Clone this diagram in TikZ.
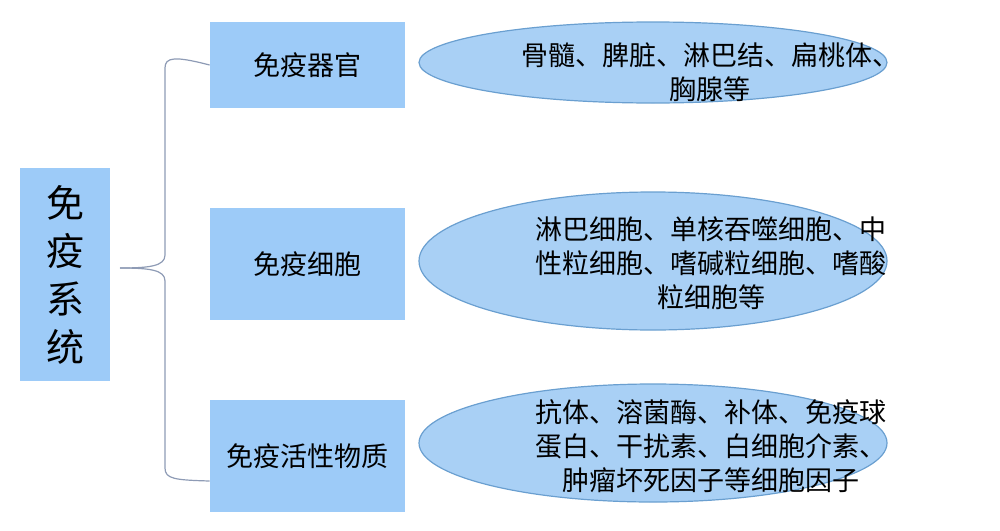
\documentclass[tikz,border=0pt]{standalone}
\usepackage{fontspec}
\setmainfont{Noto Sans CJK SC}
\usetikzlibrary{shapes.geometric}
\definecolor{boxc}{HTML}{9DCBF8}
\definecolor{ellc}{HTML}{A9D0F5}
\definecolor{elld}{HTML}{6A9FD0}
\definecolor{brc}{HTML}{8E9BB5}
\tikzset{
 box/.style={fill=boxc,draw=none,inner sep=0pt,align=center,font=\fontsize{13.5}{16}\selectfont},
 ell/.style={ellipse,fill=ellc,draw=elld,line width=0.6pt,inner sep=0pt},
 etext/.style={align=center,inner sep=0pt,font=\fontsize{13.5}{17}\selectfont},
}
\begin{document}
\begin{tikzpicture}[x=0.5pt,y=-0.5pt]
\useasboundingbox (0,0) rectangle (1000,530);
\node[box,minimum width=45pt,minimum height=106.5pt,font=\fontsize{19}{24}\selectfont] (root) at (65,274.5) {免\\疫\\系\\统};
\node[box,minimum width=97.5pt,minimum height=43pt] (a) at (307.5,65) {免疫器官};
\node[box,minimum width=97.5pt,minimum height=56pt] (b) at (307.5,264) {免疫细胞};
\node[box,minimum width=97.5pt,minimum height=56pt] (c) at (307.5,456) {免疫活性物质};
\node[ell,minimum width=234pt,minimum height=40.5pt] (ea) at (653,62.5) {};
\node[ell,minimum width=234pt,minimum height=69pt] (eb) at (653,261) {};
\node[ell,minimum width=234pt,minimum height=59pt] (ec) at (653,443) {};
\node[etext] (ta) at (710,72) {骨髓、脾脏、淋巴结、扁桃体、\\胸腺等};
\node[etext] (tb) at (711,263) {淋巴细胞、单核吞噬细胞、中\\性粒细胞、嗜碱粒细胞、嗜酸\\粒细胞等};
\node[etext] (tc) at (711,446) {抗体、溶菌酶、补体、免疫球\\蛋白、干扰素、白细胞介素、\\肿瘤坏死因子等细胞因子};
\coordinate (tip) at (120,268);
\draw[brc,line width=0.6pt] (tip) .. controls (150,268) and (165,266) .. (165,255) -- (165,68) .. controls (165,57) and (175,56) .. (a.west);
\draw[brc,line width=0.6pt] (tip) .. controls (150,268) and (165,270) .. (165,281) -- (165,468) .. controls (165,479) and (175,480) .. (c.west|-0,481);
\end{tikzpicture}
\end{document}
